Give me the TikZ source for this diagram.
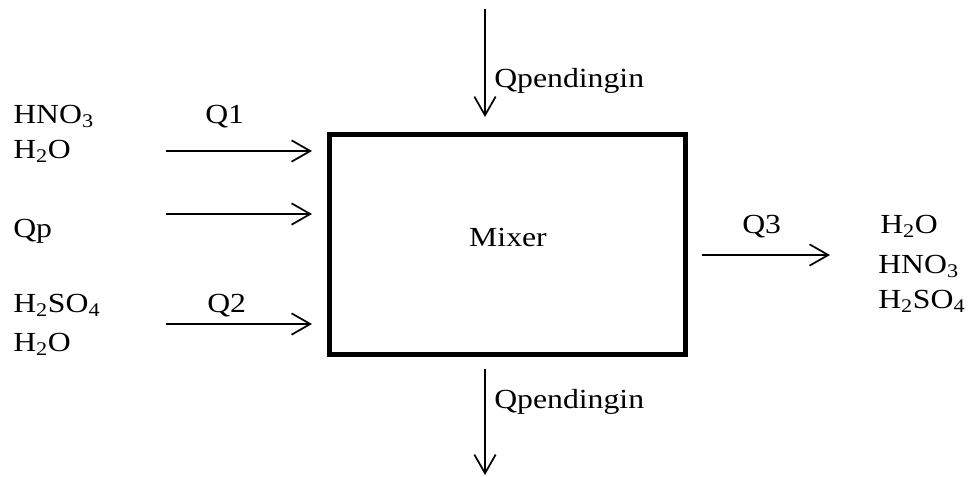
\documentclass[tikz,border=0pt]{standalone}
\usepackage{fontspec}
\setmainfont[FakeStretch=1.15]{Liberation Serif}
\usetikzlibrary{arrows.meta}
\newcommand{\sbs}[1]{\textsubscript{#1}}
\tikzset{
  lbl/.style={anchor=base west, inner sep=0pt, font=\fontsize{20.7}{24}\selectfont},
  lblc/.style={anchor=base, inner sep=0pt, font=\fontsize{20.7}{24}\selectfont},
  flow/.style={line width=1.3pt, -{Straight Barb[length=14pt,width=16pt]}},
  mixbox/.style={draw, line width=3.75pt, minimum width=267pt, minimum height=165pt, inner sep=0pt}
}
\begin{document}
\begin{tikzpicture}[x=0.75pt,y=-0.75pt]
\useasboundingbox (0,0) rectangle (970,476);
\node[mixbox] (mixer) at (507.5,244.5) {};
\node[lblc] (mixtxt) at (508,246) {Mixer};
% left labels
\node[lbl] (hno3a) at (13,123) {HNO\sbs{3}};
\node[lbl] (h2oa) at (13,158) {H\sbs{2}O};
\node[lbl] (q1) at (205,123) {Q1};
\node[lbl] (qp) at (13,237) {Qp};
\node[lbl] (h2so4a) at (13,312) {H\sbs{2}SO\sbs{4}};
\node[lbl] (h2ob) at (13,351) {H\sbs{2}O};
\node[lbl] (q2) at (207,312) {Q2};
% right labels
\node[lbl] (q3) at (742,233) {Q3};
\node[lbl] (h2oc) at (880,233) {H\sbs{2}O};
\node[lbl] (hno3c) at (878,273) {HNO\sbs{3}};
\node[lbl] (h2so4c) at (878,308) {H\sbs{2}SO\sbs{4}};
% top / bottom labels
\node[lbl] (qtop) at (494,87) {Qpendingin};
\node[lbl] (qbot) at (494,408) {Qpendingin};
% connector end points
\coordinate (s1) at (166,151); \coordinate (e1) at (312,151);
\coordinate (sp) at (166,214); \coordinate (ep) at (312,214);
\coordinate (s2) at (166,324); \coordinate (e2) at (312,324);
\coordinate (s3) at (702,255); \coordinate (e3) at (830,255);
\coordinate (st) at (485,9);   \coordinate (et) at (485,117);
\coordinate (sb) at (485,369); \coordinate (eb) at (485,475);
\draw[flow] (s1) -- (e1);
\draw[flow] (sp) -- (ep);
\draw[flow] (s2) -- (e2);
\draw[flow] (s3) -- (e3);
\draw[flow] (st) -- (et);
\draw[flow] (sb) -- (eb);
\end{tikzpicture}
\end{document}
